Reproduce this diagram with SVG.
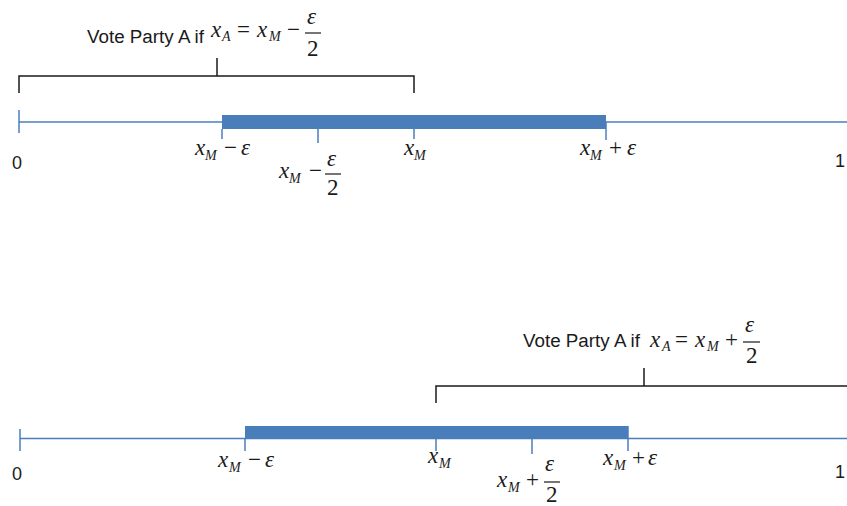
<svg xmlns="http://www.w3.org/2000/svg" width="847" height="506" viewBox="0 0 847 506">
<style>
.ax{stroke:#4a7ebb;stroke-width:1.5;fill:none}
.bar{fill:#4a7ebb}
.br{stroke:#1a1a1a;stroke-width:1.5;fill:none}
.fb{stroke:#1a1a1a;stroke-width:1.2}
.t{font-family:"Liberation Sans",Arial,sans-serif;font-size:18px;fill:#1a1a1a}
.m{font-family:"Liberation Serif","Times New Roman",serif;font-size:23px;fill:#1a1a1a}
.i{font-style:italic}
.s{font-family:"Liberation Serif","Times New Roman",serif;font-size:14px;font-style:italic;fill:#1a1a1a}
</style>
<rect width="847" height="506" fill="#fff"/>

<g id="top-axis">
<line class="ax" x1="19" y1="122" x2="847" y2="122"/>
<line class="ax" x1="19" y1="110" x2="19" y2="133"/>
<rect class="bar" x="222" y="115" width="384" height="14"/>
<line class="ax" x1="222" y1="129" x2="222" y2="139"/>
<line class="ax" x1="318" y1="129" x2="318" y2="143"/>
<line class="ax" x1="414" y1="129" x2="414" y2="139"/>
<line class="ax" x1="606" y1="122" x2="606" y2="140"/>
<text class="t" x="12" y="169">0</text>
<text class="t" x="835" y="167">1</text>
</g>

<g id="top-labels">
<text class="m i" x="195" y="155">x</text><text class="s" x="205" y="160">M</text>
<text class="m" x="224" y="155">−</text><text class="m i" x="241" y="155">ε</text>

<text class="m i" x="279" y="178">x</text><text class="s" x="289" y="183">M</text>
<text class="m" x="309" y="178">−</text>
<text class="m i" x="327" y="166">ε</text>
<line class="fb" x1="325" y1="174" x2="341" y2="174"/>
<text class="m" x="327" y="195">2</text>

<text class="m i" x="404" y="155">x</text><text class="s" x="414" y="160">M</text>

<text class="m i" x="580" y="155">x</text><text class="s" x="590" y="160">M</text>
<text class="m" x="609" y="155">+</text><text class="m i" x="627" y="155">ε</text>
</g>

<g id="top-bracket">
<path class="br" d="M19 93 V76 H414 V93"/>
<line class="br" x1="217" y1="58" x2="217" y2="76"/>
<text class="t" x="87" y="43" textLength="117" lengthAdjust="spacingAndGlyphs">Vote Party A if</text>
<text class="m i" x="211" y="37">x</text><text class="s" x="222" y="41">A</text>
<text class="m" x="237" y="37">=</text>
<text class="m i" x="257" y="37">x</text><text class="s" x="269" y="41">M</text>
<text class="m" x="287" y="37">−</text>
<text class="m i" x="307" y="24">ε</text>
<line class="fb" x1="305" y1="33" x2="321" y2="33"/>
<text class="m" x="307" y="56">2</text>
</g>

<g id="bottom-axis">
<line class="ax" x1="20" y1="438.5" x2="847" y2="438.5"/>
<line class="ax" x1="20" y1="429" x2="20" y2="451"/>
<rect class="bar" x="245" y="426" width="383" height="13"/>
<line class="ax" x1="245" y1="439" x2="245" y2="451"/>
<line class="ax" x1="436" y1="439" x2="436" y2="451"/>
<line class="ax" x1="532" y1="439" x2="532" y2="454"/>
<line class="ax" x1="628" y1="426" x2="628" y2="451"/>
<text class="t" x="12" y="480">0</text>
<text class="t" x="835" y="478">1</text>
</g>

<g id="bottom-labels">
<text class="m i" x="218" y="467">x</text><text class="s" x="229" y="472">M</text>
<text class="m" x="248" y="467">−</text><text class="m i" x="265" y="467">ε</text>

<text class="m i" x="428" y="463">x</text><text class="s" x="439" y="468">M</text>

<text class="m i" x="497" y="487">x</text><text class="s" x="508" y="492">M</text>
<text class="m" x="526" y="487">+</text>
<text class="m i" x="545" y="471">ε</text>
<line class="fb" x1="544" y1="482" x2="560" y2="482"/>
<text class="m" x="546" y="502">2</text>

<text class="m i" x="603" y="465">x</text><text class="s" x="614" y="470">M</text>
<text class="m" x="632" y="465">+</text><text class="m i" x="648" y="465">ε</text>
</g>

<g id="bottom-bracket">
<path class="br" d="M436 403 V386 H847"/>
<line class="br" x1="644" y1="368" x2="644" y2="386"/>
<text class="t" x="523" y="347" textLength="117" lengthAdjust="spacingAndGlyphs">Vote Party A if</text>
<text class="m i" x="650" y="347">x</text><text class="s" x="662" y="351">A</text>
<text class="m" x="675" y="347">=</text>
<text class="m i" x="695" y="347">x</text><text class="s" x="707" y="351">M</text>
<text class="m" x="725" y="347">+</text>
<text class="m i" x="745" y="332">ε</text>
<line class="fb" x1="743" y1="342" x2="760" y2="342"/>
<text class="m" x="746" y="363">2</text>
</g>
</svg>
